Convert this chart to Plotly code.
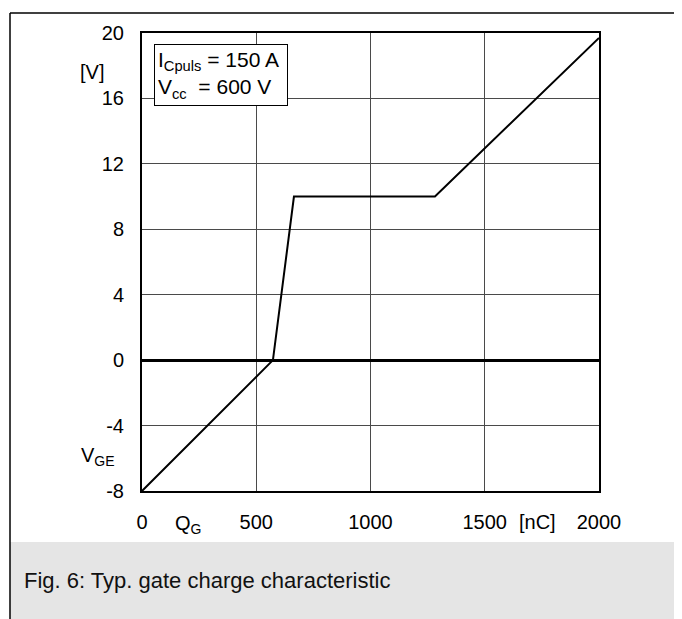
import plotly.graph_objects as go

# gate charge curve
qg_nc = [0, 573, 665, 1282, 2000]
vge_v = [-8, 0, 10, 10, 19.7]

x_ticks = [0, 500, 1000, 1500, 2000]
y_ticks = [-8, -4, 0, 4, 8, 12, 16, 20]

FONT = "Liberation Sans, Arial, Helvetica, sans-serif"

fig = go.Figure()
fig.add_trace(go.Scatter(
    x=qg_nc,
    y=vge_v,
    mode="lines",
    line=dict(color="black", width=2),
    showlegend=False,
    hoverinfo="skip"
))

# page has an 8px body margin; plot box sits at 142..599 x 33..491 on the page
OFF = 8
L, T, W, H = 142 - OFF, 33 - OFF, 457, 458
fig.update_layout(
    width=682,
    height=619,
    margin=dict(l=L, r=682 - L - W, t=T, b=619 - T - H, pad=0),
    paper_bgcolor="white",
    plot_bgcolor="white",
    font=dict(family=FONT, size=20, color="black"),
    xaxis=dict(
        range=[0, 2000],
        tickvals=x_ticks,
        ticktext=[str(v) for v in x_ticks],
        showgrid=True,
        gridcolor="#4a4a4a",
        gridwidth=1,
        zeroline=False,
        showline=True,
        linecolor="black",
        linewidth=2,
        mirror=True,
        ticks="",
        ticklabelstandoff=12,
        fixedrange=True
    ),
    yaxis=dict(
        range=[-8, 20],
        tickvals=y_ticks,
        ticktext=[str(v) for v in y_ticks],
        showgrid=True,
        gridcolor="#4a4a4a",
        gridwidth=1,
        zeroline=True,
        zerolinecolor="black",
        zerolinewidth=3,
        showline=True,
        linecolor="black",
        linewidth=2,
        mirror=True,
        ticks="",
        ticklabelstandoff=12,
        fixedrange=True
    ),
)

def px_x(px):
    return (px - OFF - L) / W

def px_y(py):
    return (T + H - (py - OFF)) / H

# outer frame and caption band
fig.add_shape(type="rect", xref="paper", yref="paper",
              x0=px_x(10), x1=px_x(700), y0=px_y(542), y1=px_y(640),
              fillcolor="#e5e5e5", line=dict(width=0), layer="below")
fig.add_shape(type="line", xref="paper", yref="paper",
              x0=px_x(10), x1=px_x(682), y0=px_y(13), y1=px_y(13),
              line=dict(color="black", width=1.5))
fig.add_shape(type="line", xref="paper", yref="paper",
              x0=px_x(10), x1=px_x(10), y0=px_y(13), y1=px_y(640),
              line=dict(color="black", width=1.5))

fig.add_annotation(xref="paper", yref="paper", x=px_x(22), y=px_y(580),
                   xanchor="left", yanchor="middle", showarrow=False,
                   text="Fig. 6: Typ. gate charge characteristic",
                   font=dict(size=22, color="#111111"))

# axis unit / symbol labels
fig.add_annotation(xref="paper", yref="paper", x=px_x(106), y=px_y(72),
                   xanchor="right", yanchor="middle", showarrow=False, text="[V]")
fig.add_annotation(xref="paper", yref="paper", x=px_x(117), y=px_y(456),
                   xanchor="right", yanchor="middle", showarrow=False,
                   text="V<sub>GE</sub>")
fig.add_annotation(xref="paper", yref="paper", x=px_x(188), y=px_y(524),
                   xanchor="center", yanchor="middle", showarrow=False,
                   text="Q<sub>G</sub>")
fig.add_annotation(xref="paper", yref="paper", x=px_x(537), y=px_y(522),
                   xanchor="center", yanchor="middle", showarrow=False,
                   text="[nC]")

# test condition box
fig.add_annotation(xref="paper", yref="paper", x=px_x(154), y=px_y(44),
                   xanchor="left", yanchor="top", showarrow=False, align="left",
                   text="I<sub>Cpuls</sub> = 150 A <br>V<sub>cc</sub>  = 600 V",
                   font=dict(size=21),
                   bgcolor="white", bordercolor="black", borderwidth=1, borderpad=3)

fig.write_html("out.html")
